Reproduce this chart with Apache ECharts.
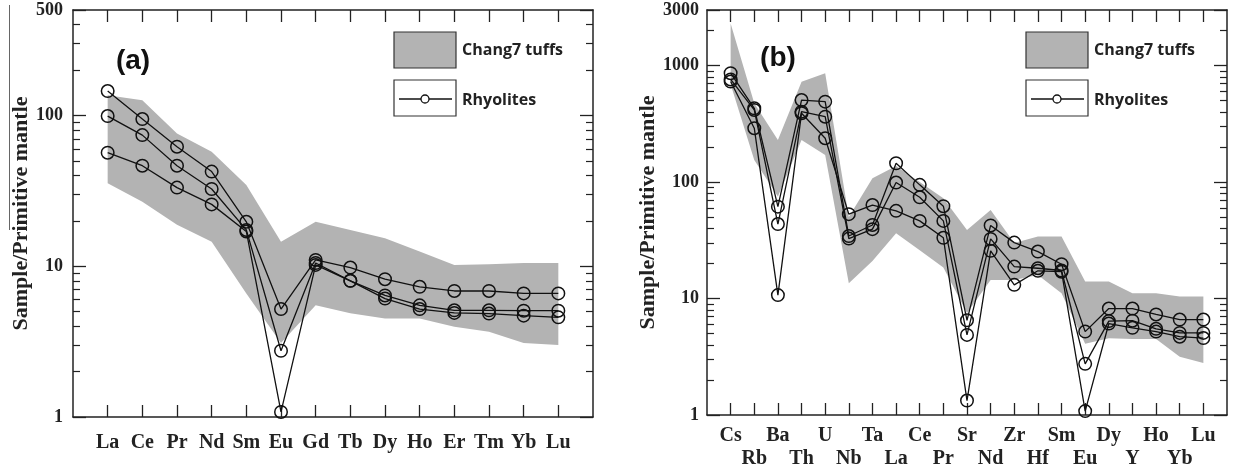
<!DOCTYPE html>
<html>
<head>
<meta charset="utf-8">
<script src="https://cdn.jsdelivr.net/npm/echarts@6/dist/echarts.min.js"></script>
<style>
html,body{margin:0;padding:0;background:#fff;}
#chart{width:1234px;height:471px;}
</style>
</head>
<body>
<div id="chart"></div>
<script>
// ---------- Data ----------
const catsA = ['La','Ce','Pr','Nd','Sm','Eu','Gd','Tb','Dy','Ho','Er','Tm','Yb','Lu'];
const rhyA1 = [145, 94.6, 62, 42.4, 19.7, 5.2, 11, 9.8, 8.2, 7.3, 6.85, 6.85, 6.6, 6.6];
const rhyA2 = [99, 74, 46.4, 32.5, 17.4, 2.75, 10.5, 8.0, 6.4, 5.5, 5.1, 5.1, 5.07, 5.07];
const rhyA3 = [56.6, 46.4, 33.2, 25.7, 17.0, 1.08, 10.2, 8.0, 6.1, 5.2, 4.9, 4.85, 4.7, 4.58];
const tuffAUpper = [136, 126, 76, 57.4, 34.6, 14.5, 19.7, 17.4, 15.3, 12.5, 10.2, 10.3, 10.5, 10.5];
const tuffALower = [35.5, 26.8, 18.8, 14.5, 6.6, 3.1, 5.5, 4.87, 4.5, 4.5, 3.97, 3.68, 3.1, 3.0];

const catsB = ['Cs','Rb','Ba','Th','U','Nb','Ta','La','Ce','Pr','Sr','Nd','Zr','Hf','Sm','Eu','Dy','Y','Ho','Yb','Lu'];
const rhyB1 = [860, 430, 61.5, 506, 490, 34.4, 42.8, 145, 94.6, 62, 6.5, 42.4, 30.2, 25.3, 19.7, 5.2, 8.2, 8.2, 7.3, 6.6, 6.6];
const rhyB2 = [760, 416, 43.6, 402, 364, 32.7, 39.4, 99, 74, 46.4, 4.87, 32.5, 18.8, 18.2, 17.4, 2.75, 6.4, 6.45, 5.5, 5.07, 5.07];
const rhyB3 = [730, 290, 10.7, 390, 238, 53, 63.5, 56.6, 46.4, 33.2, 1.33, 25.7, 13.1, 17.3, 17.0, 1.08, 6.1, 5.6, 5.2, 4.7, 4.58];
const tuffBUpper = [2300, 474, 230, 727, 859, 50, 108, 137, 100, 72.6, 38.8, 57.5, 30, 34, 34, 14, 14, 11.1, 11.1, 10.4, 10.4];
const tuffBLower = [690, 155, 75, 230, 171, 13.5, 21, 36.3, 26, 18.5, 7.5, 14.4, 14.4, 15.9, 11.1, 4.1, 4.56, 4.5, 4.5, 3.17, 2.8];

const yMajorA = [1, 10, 100, 500];
const yMinorA = [2,3,4,5,6,7,8,9,20,30,40,50,60,70,80,90,200,300,400];
const yMajorB = [1, 10, 100, 1000, 3000];
const yMinorB = [2,3,4,5,6,7,8,9,20,30,40,50,60,70,80,90,200,300,400,500,600,700,800,900,2000];

const yTitle = 'Sample/Primitive mantle';
const legendBand = 'Chang7 tuffs';
const legendLine = 'Rhyolites';

// ---------- Styles ----------
const INK = '#222';
const BAND = '#b3b3b3';
const SERIF = '"Liberation Serif", "Times New Roman", serif';
const SANS = '"Open Sans", "Liberation Sans", sans-serif';

const posA = catsA.map((c, i) => i + 1);
const posB = catsB.map((c, i) => i + 1);
const posB1 = posB.filter((p, i) => i % 2 === 0);
const posB2 = posB.filter((p, i) => i % 2 === 1);

const LINE = {show: true, onZero: false, lineStyle: {color: INK, width: 1.5}};
const NOLINE = {show: false, onZero: false};
const labelFont = {fontFamily: SERIF, fontWeight: 'bold', fontSize: 20, color: INK};

function xMain(grid, n, tickPos, labelPos, cats, margin) {
  return {
    gridIndex: grid, type: 'value', min: 0, max: n + 1, position: 'bottom',
    axisLine: LINE, splitLine: {show: false},
    axisTick: {inside: true, length: 12, customValues: tickPos, lineStyle: {color: INK, width: 1.3}},
    axisLabel: Object.assign({
      customValues: labelPos, margin: margin, showMinLabel: true, showMaxLabel: true, hideOverlap: false,
      formatter: v => cats[Math.round(v) - 1] || ''
    }, labelFont)
  };
}
function xExtraLabels(grid, n, labelPos, cats, margin) {
  return {
    gridIndex: grid, type: 'value', min: 0, max: n + 1, position: 'bottom',
    axisLine: NOLINE, axisTick: {show: false}, splitLine: {show: false},
    axisLabel: Object.assign({
      customValues: labelPos, margin: margin, showMinLabel: true, showMaxLabel: true, hideOverlap: false,
      formatter: v => cats[Math.round(v) - 1] || ''
    }, labelFont)
  };
}
function xTop(grid, n, tickPos) {
  return {
    gridIndex: grid, type: 'value', min: 0, max: n + 1, position: 'top',
    axisLine: LINE, splitLine: {show: false},
    axisTick: {inside: true, length: 12, customValues: tickPos, lineStyle: {color: INK, width: 1.3}},
    axisLabel: {show: false}
  };
}

function yAxes(grid, max, major, minor, labelMargin, nameGap) {
  const base = {gridIndex: grid, type: 'log', logBase: 10, min: 1, max: max, splitLine: {show: false}};
  return [
    Object.assign({}, base, {
      position: 'left', axisLine: LINE,
      axisTick: {inside: true, length: 13, customValues: major, lineStyle: {color: INK, width: 1.3}},
      axisLabel: {customValues: major, margin: labelMargin, showMinLabel: true, showMaxLabel: true,
        fontFamily: SERIF, fontWeight: 'bold', fontSize: 18, color: INK,
        formatter: v => String(Math.round(v))},
      name: yTitle, nameLocation: 'middle', nameGap: nameGap, nameRotate: 90,
      nameTextStyle: {fontFamily: SERIF, fontWeight: 'bold', fontSize: 22, color: INK}
    }),
    Object.assign({}, base, {
      position: 'left', axisLine: NOLINE,
      axisTick: {inside: true, length: 7, customValues: minor, lineStyle: {color: INK, width: 1.2}},
      axisLabel: {show: false}
    }),
    Object.assign({}, base, {
      position: 'right', axisLine: LINE,
      axisTick: {inside: true, length: 13, customValues: major, lineStyle: {color: INK, width: 1.3}},
      axisLabel: {show: false}
    }),
    Object.assign({}, base, {
      position: 'right', axisLine: NOLINE,
      axisTick: {inside: true, length: 7, customValues: minor, lineStyle: {color: INK, width: 1.2}},
      axisLabel: {show: false}
    })
  ];
}

function bandSeries(xi, yi, upper, lower) {
  return {
    type: 'custom', xAxisIndex: xi, yAxisIndex: yi, silent: true, z: 1,
    data: upper.map((u, i) => [i + 1, u, lower[i]]),
    encode: {x: 0, y: [1, 2]},
    renderItem: function (params, api) {
      if (params.dataIndex !== 0) return null;
      const pts = [];
      for (let i = 0; i < upper.length; i++) pts.push(api.coord([i + 1, upper[i]]));
      for (let i = lower.length - 1; i >= 0; i--) pts.push(api.coord([i + 1, lower[i]]));
      return {type: 'polygon', shape: {points: pts}, style: {fill: BAND, stroke: null}};
    }
  };
}

function lineSeries(xi, yi, vals) {
  return {
    type: 'line', xAxisIndex: xi, yAxisIndex: yi, z: 3, silent: true,
    data: vals.map((v, i) => [i + 1, v]),
    symbol: 'circle', symbolSize: 12.5,
    itemStyle: {color: 'rgba(0,0,0,0)', borderColor: '#111', borderWidth: 1.5},
    lineStyle: {color: '#111', width: 1.3},
    emphasis: {disabled: true}
  };
}

function legendGraphics(x0, y0, textX) {
  return [
    {type: 'rect', shape: {x: x0, y: y0, width: 62, height: 36}, style: {fill: BAND, stroke: '#333', lineWidth: 1.2}, z: 10},
    {type: 'rect', shape: {x: x0, y: y0 + 48, width: 62, height: 36}, style: {fill: '#fff', stroke: '#333', lineWidth: 1.2}, z: 10},
    {type: 'line', shape: {x1: x0 + 5, y1: y0 + 67, x2: x0 + 58, y2: y0 + 67}, style: {stroke: '#111', lineWidth: 1.3}, z: 11},
    {type: 'circle', shape: {cx: x0 + 31, cy: y0 + 67, r: 4}, style: {fill: '#fff', stroke: '#111', lineWidth: 1.3}, z: 12},
    {type: 'text', x: textX, y: y0 + 18, style: {text: legendBand, font: 'bold 16px ' + SANS, fill: INK, textVerticalAlign: 'middle'}, z: 11},
    {type: 'text', x: textX, y: y0 + 68, style: {text: legendLine, font: 'bold 16px ' + SANS, fill: INK, textVerticalAlign: 'middle'}, z: 11}
  ];
}

const chart = echarts.init(document.getElementById('chart'), null, {renderer: 'canvas'});
chart.setOption({
  animation: false,
  backgroundColor: '#fff',
  grid: [
    {left: 73, top: 10, width: 520, height: 407},
    {left: 707, top: 10, width: 520, height: 405}
  ],
  xAxis: [
    xMain(0, catsA.length, posA, posA, catsA, 16),   // 0
    xTop(0, catsA.length, posA),                     // 1
    xMain(1, catsB.length, posB, posB1, catsB, 11),  // 2
    xTop(1, catsB.length, posB),                     // 3
    xExtraLabels(1, catsB.length, posB2, catsB, 34)  // 4
  ],
  yAxis: [].concat(
    yAxes(0, 500, yMajorA, yMinorA, 10, 37),
    yAxes(1, 3000, yMajorB, yMinorB, 8, 48)
  ),
  series: [
    bandSeries(0, 0, tuffAUpper, tuffALower),
    lineSeries(0, 0, rhyA1),
    lineSeries(0, 0, rhyA2),
    lineSeries(0, 0, rhyA3),
    bandSeries(2, 4, tuffBUpper, tuffBLower),
    lineSeries(2, 4, rhyB1),
    lineSeries(2, 4, rhyB2),
    lineSeries(2, 4, rhyB3)
  ],
  graphic: [].concat(
    [
      {type: 'text', x: 133, y: 61, style: {text: '(a)', font: 'bold 28px "Liberation Sans", Arial, sans-serif', fill: '#111', textAlign: 'center', textVerticalAlign: 'middle'}, z: 11},
      {type: 'text', x: 778, y: 58, style: {text: '(b)', font: 'bold 28px "Liberation Sans", Arial, sans-serif', fill: '#111', textAlign: 'center', textVerticalAlign: 'middle'}, z: 11},
      {type: 'line', shape: {x1: 9.5, y1: 5, x2: 9.5, y2: 230}, style: {stroke: '#666', lineWidth: 1}, z: 5}
    ],
    legendGraphics(394, 32, 462),
    legendGraphics(1026, 32, 1094)
  )
});
</script>
</body>
</html>
